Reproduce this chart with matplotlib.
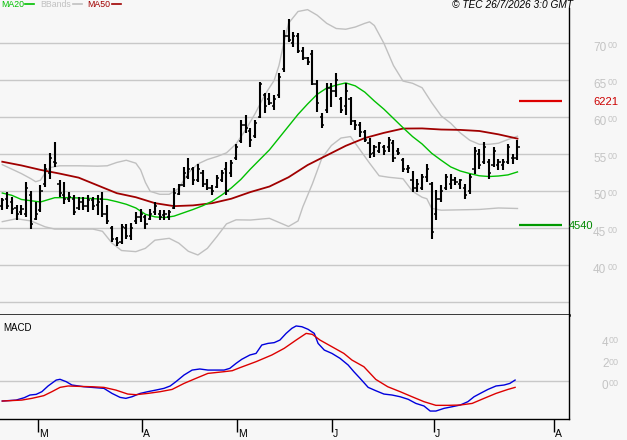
import numpy as np
import matplotlib.pyplot as plt
from matplotlib.lines import Line2D
from matplotlib.transforms import blended_transform_factory

plt.rcParams['font.family'] = ['Liberation Sans', 'DejaVu Sans']

# daily bars
high = [4914, 4991, 4923, 4811, 4811, 5126, 5004, 4856, 5081, 5374,
        5523, 5662, 5158, 5126, 4991, 4946, 4923, 4923, 4946, 4923,
        4946, 4991, 4811, 4527, 4383, 4563, 4563, 4572, 4721, 4766,
        4676, 4766, 4856, 4752, 4752, 4752, 5045, 5104, 5329, 5455,
        5329, 5365, 5284, 5171, 5081, 5220, 5290, 5400, 5420, 5640,
        5964, 6031, 5851, 5964, 6482, 6324, 6324, 6302, 6595, 7180,
        7324, 7158, 7144, 6955, 6820, 6910, 6505, 6054, 6460, 6460,
        6595, 6279, 6460, 6279, 5964, 5941, 5829, 5716, 5626, 5671,
        5626, 5739, 5694, 5581, 5446, 5356, 5280, 5171, 5239, 5374,
        5126, 5013, 5081, 5239, 5239, 5194, 5171, 5104, 5239, 5599,
        5577, 5667, 5441, 5599, 5441, 5441, 5644, 5509, 5689]
low = [4743, 4766, 4698, 4608, 4676, 4653, 4495, 4608, 4721, 5059,
       5171, 5329, 4923, 4833, 4856, 4676, 4743, 4743, 4721, 4743,
       4676, 4653, 4554, 4315, 4257, 4293, 4360, 4338, 4563, 4586,
       4495, 4608, 4676, 4608, 4617, 4608, 4766, 4946, 5059, 5171,
       5081, 5126, 5059, 5013, 4946, 5040, 5130, 4950, 5200, 5420,
       5649, 5784, 5603, 5716, 5986, 6054, 6167, 6099, 6257, 6617,
       7023, 6955, 6865, 6775, 6707, 6437, 6076, 5851, 6054, 6144,
       6279, 6054, 6031, 5896, 5829, 5739, 5671, 5446, 5468, 5513,
       5491, 5536, 5401, 5491, 5266, 5243, 4991, 4991, 5013, 5126,
       4360, 4608, 4856, 5013, 5036, 5081, 5036, 4901, 4968, 5239,
       5306, 5374, 5171, 5329, 5284, 5284, 5374, 5374, 5419]
opens = [4800, 4900, 4850, 4780, 4720, 4700, 4950, 4620, 4750, 5100,
         5250, 5400, 5100, 4950, 4900, 4900, 4780, 4850, 4800, 4880,
         4820, 4900, 4700, 4500, 4350, 4320, 4500, 4400, 4600, 4650,
         4650, 4620, 4720, 4700, 4680, 4650, 4780, 4960, 5080, 5200,
         5300, 5150, 5250, 5100, 5050, 5060, 5150, 5300, 5250, 5450,
         5680, 5900, 5820, 5750, 6000, 6300, 6250, 6150, 6300, 6650,
         7100, 7000, 7100, 6900, 6800, 6850, 6450, 6000, 6100, 6400,
         6350, 6250, 6150, 6250, 5950, 5900, 5800, 5650, 5520, 5550,
         5600, 5600, 5650, 5550, 5420, 5300, 5150, 5050, 5050, 5200,
         5100, 4700, 4900, 5050, 5100, 5150, 5100, 5050, 5000, 5300,
         5500, 5400, 5400, 5350, 5350, 5350, 5400, 5450, 5450]
closes = [4880, 4800, 4760, 4700, 4760, 5050, 4560, 4700, 5000, 5300,
          5450, 5380, 4980, 4900, 4920, 4720, 4850, 4800, 4880, 4800,
          4850, 4700, 4600, 4360, 4300, 4520, 4400, 4500, 4650, 4700,
          4560, 4700, 4800, 4650, 4700, 4720, 4980, 5080, 5250, 5300,
          5150, 5300, 5100, 5050, 5000, 5180, 5250, 5000, 5380, 5600,
          5900, 5850, 5700, 5920, 6450, 6150, 6200, 6250, 6550, 7100,
          7050, 7100, 6900, 6800, 6750, 6450, 6200, 5900, 6400, 6350,
          6500, 6100, 6350, 5950, 5900, 5800, 5700, 5500, 5600, 5650,
          5550, 5700, 5450, 5520, 5300, 5320, 5050, 5100, 5200, 5300,
          4450, 4900, 5000, 5200, 5150, 5120, 5150, 4950, 5200, 5550,
          5350, 5600, 5250, 5550, 5400, 5400, 5600, 5450, 5600]

# moving averages and bands, sampled along the chart
ma20_x = [0, 2, 4, 8, 11, 14, 18, 22, 24, 26, 28, 30, 32, 34, 36, 38, 40, 42,
          44, 46, 48, 50, 52, 54, 56, 58, 60, 62, 64, 66, 68, 70, 72, 74, 76,
          78, 80, 82, 84, 86, 88, 90, 92, 94, 96, 98, 100, 102, 104, 106, 108]
ma20 = [4977, 4946, 4890, 4856, 4914, 4915, 4905, 4890, 4860, 4825, 4775,
        4690, 4655, 4645, 4665, 4710, 4755, 4805, 4865, 4950, 5045, 5160,
        5300, 5430, 5560, 5720, 5880, 6040, 6180, 6310, 6395, 6435, 6465,
        6425, 6340, 6220, 6110, 5985, 5860, 5740, 5640, 5515, 5420, 5330,
        5275, 5240, 5210, 5200, 5207, 5222, 5262]

ma50_x = [0, 4, 8, 12, 16, 20, 24, 28, 32, 36, 40, 44, 48, 52, 56, 60, 64,
          68, 72, 76, 80, 84, 88, 92, 96, 100, 104, 108]
ma50 = [5400, 5350, 5290, 5240, 5185, 5080, 4975, 4920, 4840, 4800, 4810,
        4840, 4900, 4990, 5065, 5190, 5355, 5485, 5615, 5720, 5790, 5848,
        5850, 5835, 5830, 5815, 5770, 5712]

bb_up_x = [0, 2, 4, 6, 7, 8, 9, 10, 12, 16, 20, 22, 24, 26, 28, 29, 30, 31,
           33, 35, 37, 39, 41, 43, 45, 47, 49, 51, 53, 55, 57, 58, 59, 60,
           62, 64, 66, 68, 70, 72, 74, 76, 77, 78, 80, 82, 84, 86, 88, 90,
           92, 94, 96, 98, 100, 102, 104, 106, 108]
bb_up = [5360, 5300, 5240, 5170, 5130, 5150, 5250, 5320, 5345, 5345, 5340,
         5345, 5390, 5420, 5380, 5290, 5120, 5000, 4960, 4960, 5040, 5250,
         5370, 5430, 5470, 5520, 5640, 5830, 6050, 6300, 6500, 6700, 7000,
         7270, 7430, 7455, 7380, 7270, 7200, 7190, 7220, 7270, 7290, 7240,
         7000, 6700, 6490, 6460, 6400, 6200, 6020, 5920, 5790, 5690, 5635,
         5635, 5650, 5700, 5745]

bb_lo_x = [0, 3, 6, 9, 11, 16, 19, 21, 23, 25, 28, 30, 32, 35, 37, 39, 41,
           43, 45, 47, 49, 52, 56, 58, 60, 62, 63, 65, 67, 69, 71, 73, 75,
           77, 79, 81, 84, 86, 88, 89, 90, 92, 96, 100, 104, 108]
bb_lo = [4590, 4630, 4600, 4520, 4490, 4490, 4490, 4460, 4300, 4200, 4185,
         4230, 4340, 4365, 4300, 4190, 4140, 4230, 4390, 4560, 4615, 4612,
         4635, 4580, 4525, 4600, 4790, 5100, 5450, 5620, 5720, 5740, 5560,
         5380, 5210, 5190, 5170, 5000, 4920, 4900, 4770, 4745, 4750, 4755,
         4775, 4768]

# MACD panel
macd_x = [0, 2.9, 4.6, 5.8, 7.1, 8.3, 9.6, 11.3, 12.1, 13.4, 14.6, 17.1,
          19.6, 21.3, 23, 24.7, 25.9, 27.2, 28.9, 30.5, 32.2, 33.9, 35.2,
          36.4, 38.1, 39.8, 41.4, 43.1, 44.8, 46.5, 47.7, 49, 50.2, 51.9,
          53.2, 54.4, 55.7, 57, 58.2, 59.5, 60.7, 61.6, 62.8, 64.1, 65.4,
          66.2, 67.5, 69.1, 70.8, 72.5, 73.7, 75, 76.7, 78.3, 80, 81.7, 83.4,
          85.1, 86.7, 88.4, 89.7, 90.9, 92.6, 94.3, 96, 97.6, 98.9, 100.2,
          101.8, 103.5, 105.2, 106.4, 107.5]
macd = [-186, -177, -155, -130, -124, -99, -46, 9, 16, -6, -37, -53, -62,
        -68, -115, -152, -161, -146, -115, -99, -84, -68, -46, -6, 56, 102,
        112, 102, 102, 102, 118, 164, 202, 242, 257, 335, 350, 357, 381, 443,
        490, 512, 505, 481, 443, 350, 288, 257, 211, 149, 87, 25, -59, -90,
        -121, -130, -146, -170, -208, -232, -279, -279, -254, -239, -223,
        -192, -146, -115, -78, -46, -37, -22, 9]
signal_x = [0, 4.1, 6.2, 8.7, 10.4, 12.1, 13.8, 16.3, 18.8, 21.3, 23.8, 26.3,
            28, 30.5, 33.1, 35.6, 38.1, 40.6, 43.1, 46.5, 48.2, 49.8, 53.2,
            56.5, 59.1, 61.6, 63.7, 65, 66.6, 69.1, 71.6, 73.3, 75.8, 78.3,
            80.8, 83.4, 85.9, 88.4, 90.9, 93.4, 96, 98.5, 101, 103.5, 106,
            107.5]
signal = [-186, -177, -161, -136, -99, -59, -46, -50, -53, -59, -84, -121,
          -127, -115, -99, -78, -22, 25, 71, 87, 96, 124, 180, 242, 304, 381,
          443, 434, 381, 319, 257, 195, 133, 15, -53, -99, -146, -192, -226,
          -226, -223, -208, -161, -115, -78, -59]

price_levels = [3500, 4000, 4500, 5000, 5500, 6000, 6500, 7000]
macd_levels = [0, 200, 400]
resistance = 6221
support = 4540
month_pos = [7.5, 29.3, 49.2, 69.1, 90.5, 115.7]
month_labels = ['M', 'A', 'M', 'J', 'J', 'A']

bg = '#f7f7f7'
grid_c = '#c8c8c8'
lab_c = '#c4c4c4'

W, H = 627, 440
fig = plt.figure(figsize=(W / 100, H / 100), dpi=100, facecolor=bg)
ax = fig.add_axes([0, 1 - 315 / H, 569 / W, 307 / H], facecolor=bg)
ax2 = fig.add_axes([0, 1 - 419 / H, 569 / W, 104 / H], facecolor=bg)

xlim = (-0.48, 118.8)
ax.set_xlim(*xlim)
ax.set_ylim(3329, 7477)
ax2.set_xlim(*xlim)
ax2.set_ylim(-353, 614)

for a in (ax, ax2):
    a.spines['top'].set_visible(False)
    a.spines['left'].set_visible(False)
    a.spines['right'].set_color('black')
    a.spines['right'].set_linewidth(1.0)
    a.spines['bottom'].set_color('black')
ax.spines['bottom'].set_linewidth(1.8)
ax2.spines['bottom'].set_linewidth(1.0)
ax.set_xticks([])
ax.set_yticks([])
ax2.set_yticks([])
ax2.set_xticks(month_pos)
ax2.tick_params(axis='x', length=9.5, width=1, direction='out',
                labelbottom=False, color='black')

for lv in price_levels:
    ax.axhline(lv, color=grid_c, lw=1, zorder=1)
ax2.axhline(0, color=grid_c, lw=1, zorder=1)

# bands and averages
ax.plot(bb_up_x, bb_up, color='#c0c0c0', lw=1, zorder=2)
ax.plot(bb_lo_x, bb_lo, color='#c0c0c0', lw=1, zorder=2)
ax.plot(ma50_x, ma50, color='#a00000', lw=1.3, zorder=3)
ax.plot(ma20_x, ma20, color='#00c000', lw=1, zorder=3)

# OHLC bars
idx = np.arange(len(high))
ax.vlines(idx, low, high, color='black', lw=1.5, zorder=4)
ax.hlines(opens, idx - 0.45, idx, color='black', lw=1.1, zorder=4)
ax.hlines(closes, idx, idx + 0.45, color='black', lw=1.1, zorder=4)

# support / resistance
ax.hlines(resistance, 108.3, 117.3, color='#dd0000', lw=1.6, zorder=4)
ax.hlines(support, 108.3, 117.3, color='#009900', lw=1.6, zorder=4)

tr = blended_transform_factory(ax.transAxes, ax.transData)
ppx = (7477 - 3329) / 307.0
for lv in price_levels[1:]:
    s = str(lv)
    ax.text(593 / 569, lv - 4.7 * ppx, s[:2], transform=tr, fontsize=8.5,
            color=lab_c, ha='left', va='center', clip_on=False)
    ax.text(607.5 / 569, lv - 2.5 * ppx, s[2:], transform=tr, fontsize=6.5,
            color=lab_c, ha='left', va='center', clip_on=False)
ax.text(593 / 569, resistance - 1 * ppx, str(resistance), transform=tr,
        fontsize=8, color='#cc0000', ha='left', va='center', clip_on=False)
ax.text(569 / 569, support - 0.5 * ppx, str(support), transform=tr,
        fontsize=8, color='#008800', ha='left', va='center', clip_on=False)

# MACD
ax2.plot(macd_x, macd, color='#0000dd', lw=1, zorder=3)
ax2.plot(signal_x, signal, color='#dd0000', lw=1, zorder=3)
tr2 = blended_transform_factory(ax2.transAxes, ax2.transData)
mpx = 200 / 21.5
for lv in macd_levels:
    ax2.text(602 / 569, lv - 4.7 * mpx, str(lv // 100), transform=tr2,
             fontsize=8.5, color=lab_c, ha='left', va='center', clip_on=False)
    ax2.text(609 / 569, lv - 2.5 * mpx, '00', transform=tr2, fontsize=6.5,
             color=lab_c, ha='left', va='center', clip_on=False)
ax2.text(3 / 569, 1 - 12.5 / 104, 'MACD', transform=ax2.transAxes,
         fontsize=7, color='black', ha='left', va='center')

tr3 = blended_transform_factory(ax2.transData, ax2.transAxes)
for p, m in zip(month_pos, month_labels):
    ax2.text(p + 0.2, -15 / 104, m, transform=tr3, fontsize=7.5,
             color='black', ha='left', va='center', clip_on=False)

# legend row and stamp
def fy(y):
    return 1 - y / H

legend = [('MA20', '#00c000', 1, 25, 34), ('BBands', '#c0c0c0', 40.5, 73, 81.5),
          ('MA50', '#a00000', 87, 112, 121)]
for name, col, tx, l0, l1 in legend:
    fig.text(tx / W, fy(4.7), name, fontsize=6.3, color=col,
             ha='left', va='center')
    fig.add_artist(Line2D([l0 / W, l1 / W], [fy(4.4), fy(4.4)], color=col,
                          lw=1.2, transform=fig.transFigure))
fig.text(573 / W, fy(5), '\u00a9 TEC 26/7/2026 3:0 GMT', fontsize=7.3,
         style='italic', color='black', ha='right', va='center')

fig.savefig('out.png', dpi=100, facecolor=bg)
